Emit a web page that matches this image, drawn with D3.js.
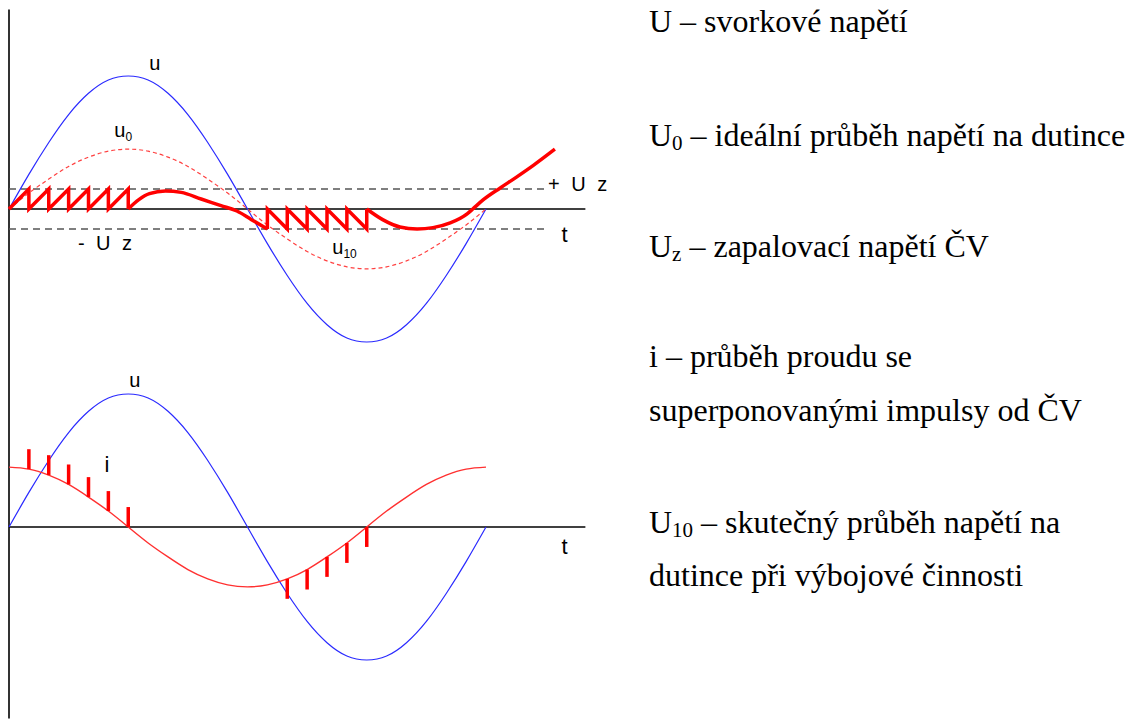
<!DOCTYPE html>
<html>
<head>
<meta charset="utf-8">
<script src="https://cdn.jsdelivr.net/npm/d3@7"></script>
<style>
  html, body { margin: 0; padding: 0; background: #fff; }
  svg { display: block; }
</style>
</head>
<body>
<svg id="chart" width="1134" height="720"></svg>
<script>
// Phase angle (degrees) at which the waveforms are sampled
const phase = [0, 15, 30, 45, 60, 75, 90, 105, 120, 135, 150, 165, 180,
               195, 210, 225, 240, 255, 270, 285, 300, 315, 330, 345, 360];

// Terminal voltage u
const uVals = [0, 26, 50, 71, 87, 97, 100, 97, 87, 71, 50, 26, 0,
               -26, -50, -71, -87, -97, -100, -97, -87, -71, -50, -26, 0];

// Ideal lamp voltage u0
const u0Vals = [0, 12, 22.5, 32, 39, 43.5, 45, 43.5, 39, 32, 22.5, 12, 0,
                -12, -22.5, -32, -39, -43.5, -45, -43.5, -39, -32, -22.5, -12, 0];

// Current i
const iVals = [45, 43.5, 39, 32, 22.5, 12, 0, -12, -22.5, -32, -39, -43.5, -45,
               -43.5, -39, -32, -22.5, -12, 0, 12, 22.5, 32, 39, 43.5, 45];

// Ignition voltage level +/- Uz
const uz = 15;

// Real lamp voltage u10, drawn in four pieces
const u10RiseSaw = [[0, 0], [15, 15], [15, 0], [30, 15], [30, 0], [45, 15], [45, 0],
                    [60, 15], [60, 0], [75, 15], [75, 0], [90, 15], [90, 0]];
const u10Hump = [[90, 0], [98, 7], [106, 11.5], [118, 13.5], [130, 12.5], [145, 7.5],
                 [160, 2.5], [172, -1.5], [183, -8], [195, -15]];
const u10FallSaw = [[195, -15], [195, 0], [210, -15], [210, 0], [225, -15], [225, 0],
                    [240, -15], [240, 0], [255, -15], [255, 0], [270, -15], [270, 0]];
const u10Dip = [[270, 0], [282, -8], [295, -13.5], [308, -15], [320, -14], [333, -10.5],
                [346, -3.5], [350, 0], [358, 7], [371, 16], [383, 24], [396, 33], [412, 45]];

// Current impulses from the discharges (phase, height)
const pulsesUp = [15, 30, 45, 60, 75, 90];
const pulsesDown = [210, 225, 240, 255, 270];
const pulseHeight = 15;

// Explanation text on the right: [symbol, subscript, rest]
const legendRows = [
  ["U", "", " – svorkové napětí"],
  ["U", "0", " – ideální průběh napětí na dutince"],
  ["U", "z", " – zapalovací napětí ČV"],
  ["i", "", " – průběh proudu se"],
  ["", "", "superponovanými impulsy od ČV"],
  ["U", "10", " – skutečný průběh napětí na"],
  ["", "", "dutince při výbojové činnosti"]
];
const legendBaselines = [32, 146, 257, 367, 421, 533, 586];

const svg = d3.select("#chart");

const x = d3.scaleLinear().domain([0, 360]).range([9, 486]);
const yTop = d3.scaleLinear().domain([-100, 100]).range([342, 76]);
const yBot = d3.scaleLinear().domain([-100, 100]).range([660, 394]);

const timeAxisEnd = 435;   // end of the t axis (degrees)
const levelLineEnd = 406;  // end of the dashed Uz lines

const pairs = vals => phase.map((p, k) => [p, vals[k]]);
const lineFor = (y, curve) => d3.line().x(d => x(d[0])).y(d => y(d[1])).curve(curve);

const g = svg.append("g");

// vertical axis shared by both plots
g.append("line")
  .attr("x1", x(0)).attr("x2", x(0))
  .attr("y1", yTop(150)).attr("y2", yBot(-144))
  .attr("stroke", "#333").attr("stroke-width", 2);

// ---------- upper plot: voltages ----------
const upper = g.append("g");

upper.append("line")
  .attr("x1", x(0)).attr("x2", x(timeAxisEnd))
  .attr("y1", yTop(0)).attr("y2", yTop(0))
  .attr("stroke", "#000").attr("stroke-width", 1.3);

upper.selectAll("line.level")
  .data([uz, -uz])
  .join("line")
  .attr("class", "level")
  .attr("x1", x(0)).attr("x2", x(levelLineEnd))
  .attr("y1", d => yTop(d)).attr("y2", d => yTop(d))
  .attr("stroke", "#555").attr("stroke-width", 1.5)
  .attr("stroke-dasharray", "7,5");

upper.append("path")
  .attr("d", lineFor(yTop, d3.curveNatural)(pairs(uVals)))
  .attr("fill", "none").attr("stroke", "#2a2aff").attr("stroke-width", 1.2);

upper.append("path")
  .attr("d", lineFor(yTop, d3.curveNatural)(pairs(u0Vals)))
  .attr("fill", "none").attr("stroke", "#ff4040").attr("stroke-width", 1.2)
  .attr("stroke-dasharray", "4,3");

const u10Pieces = [
  [u10RiseSaw, d3.curveLinear],
  [u10Hump, d3.curveMonotoneX],
  [u10FallSaw, d3.curveLinear],
  [u10Dip, d3.curveMonotoneX]
];
upper.selectAll("path.u10")
  .data(u10Pieces)
  .join("path")
  .attr("class", "u10")
  .attr("d", d => lineFor(yTop, d[1])(d[0]))
  .attr("fill", "none").attr("stroke", "#ff0000").attr("stroke-width", 3.5)
  .attr("stroke-linejoin", "miter").attr("stroke-linecap", "butt");

// ---------- lower plot: current ----------
const lower = g.append("g");

lower.append("line")
  .attr("x1", x(0)).attr("x2", x(timeAxisEnd))
  .attr("y1", yBot(0)).attr("y2", yBot(0))
  .attr("stroke", "#000").attr("stroke-width", 1.3);

lower.append("path")
  .attr("d", lineFor(yBot, d3.curveNatural)(pairs(uVals)))
  .attr("fill", "none").attr("stroke", "#2a2aff").attr("stroke-width", 1.2);

lower.append("path")
  .attr("d", lineFor(yBot, d3.curveNatural)(pairs(iVals)))
  .attr("fill", "none").attr("stroke", "#ff3030").attr("stroke-width", 1.4);

const iAt = p => iVals[phase.indexOf(p)];
const pulses = pulsesUp.map(p => [p, iAt(p), iAt(p) + pulseHeight])
  .concat(pulsesDown.map(p => [p, iAt(p), iAt(p) - pulseHeight]));
lower.selectAll("line.pulse")
  .data(pulses)
  .join("line")
  .attr("class", "pulse")
  .attr("x1", d => x(d[0])).attr("x2", d => x(d[0]))
  .attr("y1", d => yBot(d[1])).attr("y2", d => yBot(d[2]))
  .attr("stroke", "#ff0000").attr("stroke-width", 3.5);

// ---------- curve labels ----------
function label(parent, px, py, main, sub, size) {
  const t = parent.append("text")
    .attr("x", px).attr("y", py)
    .attr("font-size", size)
    .style("font-family", "Liberation Sans")
    .attr("fill", "#000");
  t.append("tspan").text(main);
  if (sub) t.append("tspan").attr("dy", 4).attr("font-size", size * 0.6).text(sub);
  return t;
}
label(upper, x(90) + 21, yTop(100) - 6, "u", "", 20);
label(upper, x(90) - 14, yTop(45) - 12, "u", "0", 20);
label(upper, x(244), yTop(-45) - 15, "u", "10", 20);
label(upper, x(406) + 1, yTop(uz) + 2, "+ U z", "", 20).attr("letter-spacing", 3);
label(upper, x(52), yTop(-uz) + 21, "- U z", "", 20).attr("letter-spacing", 3);
label(upper, x(417), yTop(0) + 33, "t", "", 22);
label(lower, x(90) + 1, yBot(100) - 7, "u", "", 20);
label(lower, x(72), yBot(iAt(60)) - 25, "i", "", 22);
label(lower, x(417), yBot(0) + 27, "t", "", 22);

// ---------- explanation text ----------
const legend = svg.append("g");
legendRows.forEach((row, k) => {
  const t = legend.append("text")
    .attr("x", 649).attr("y", legendBaselines[k])
    .attr("font-size", 32)
    .style("font-family", "Liberation Serif")
    .attr("fill", "#000");
  if (row[0]) t.append("tspan").text(row[0]);
  if (row[1]) t.append("tspan").attr("dy", 4).attr("font-size", 21).text(row[1]);
  t.append("tspan").attr("dy", row[1] ? -4 : 0).text(row[2]);
});
</script>
</body>
</html>
